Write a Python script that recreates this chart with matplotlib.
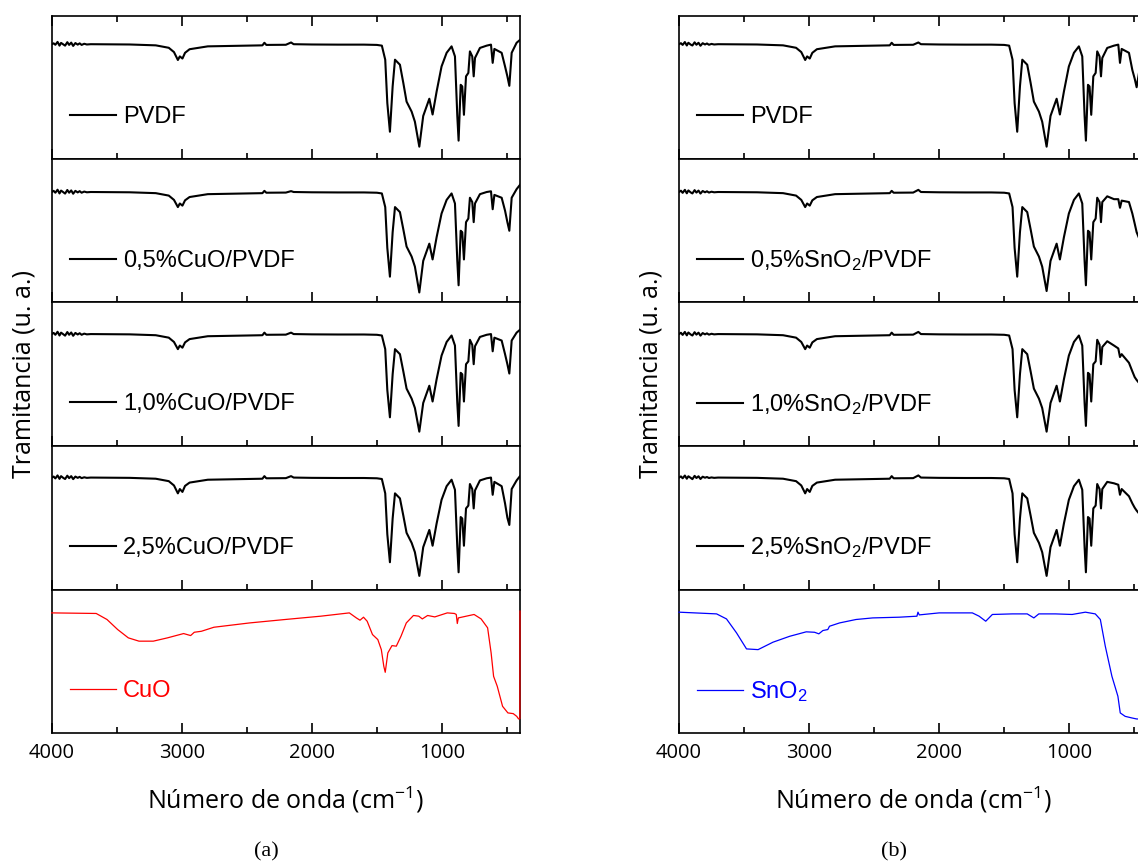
import matplotlib
matplotlib.use('Agg')
import matplotlib.pyplot as plt
from matplotlib.ticker import MultipleLocator

plt.rcParams.update({'font.family': 'Open Sans'})

# wavenumber grid shared by the PVDF based films (cm-1)
wn_film = [4000, 3985, 3972, 3955, 3940, 3928, 3910, 3897, 3880, 3866, 3850, 3835, 3818, 3800, 3785, 3770, 3750, 3730, 3700,
           3400, 3200, 3100, 3060, 3030, 3015, 2995, 2975, 2940, 2800, 2500, 2380, 2365, 2350, 2200, 2160, 2140, 2000, 1800, 1600, 1500,
           1462, 1436, 1420, 1400, 1379, 1361, 1323, 1297, 1272, 1233, 1208, 1174, 1144, 1097, 1072, 1041, 1003, 964, 926, 900,
           882, 872, 856, 844, 831, 815, 797, 785, 767, 756, 746, 708, 656, 623, 610, 597, 541, 515, 497, 482, 464, 426, 400]

# transmittance (normalised to each panel)
tr_pvdf = [.800, .806, .796, .816, .790, .809, .798, .790, .814, .795, .811, .788, .808, .797, .806, .795, .803, .798, .800,
           .798, .792, .775, .745, .690, .715, .700, .740, .765, .785, .790, .792, .810, .795, .796, .812, .800, .798, .797, .797, .795,
           .790, .692, .390, .190, .506, .692, .657, .530, .400, .330, .260, .086, .300, .420, .310, .470, .645, .740, .785, .715,
           .300, .128, .517, .506, .308, .576, .600, .750, .715, .576, .704, .774, .790, .797, .670, .767, .740, .645, .576, .510, .740, .810, .830]
tr_cuo05 = [.770, .778, .765, .786, .760, .780, .768, .759, .784, .765, .781, .758, .778, .767, .776, .765, .773, .768, .770,
            .768, .762, .745, .715, .665, .690, .675, .712, .735, .755, .760, .762, .778, .765, .766, .776, .770, .768, .767, .767, .765,
            .760, .665, .380, .180, .490, .665, .630, .510, .390, .320, .250, .070, .290, .410, .300, .455, .620, .715, .760, .690,
            .290, .120, .500, .490, .300, .560, .585, .730, .700, .560, .690, .755, .770, .775, .650, .750, .730, .640, .560, .500, .730, .790, .820]
tr_cuo10 = [.780, .788, .775, .796, .770, .790, .778, .769, .794, .775, .791, .768, .788, .777, .786, .775, .783, .778, .780,
            .778, .772, .755, .725, .675, .700, .685, .722, .745, .765, .770, .772, .790, .775, .776, .790, .780, .778, .777, .777, .775,
            .770, .675, .390, .200, .500, .675, .640, .520, .400, .330, .265, .100, .300, .420, .310, .465, .630, .725, .770, .700,
            .300, .140, .510, .500, .310, .570, .590, .740, .705, .570, .695, .760, .775, .780, .660, .755, .735, .640, .570, .505, .735, .790, .810]
tr_cuo25 = [.780, .787, .774, .795, .771, .790, .777, .770, .793, .776, .790, .769, .787, .778, .785, .776, .782, .778, .780,
            .778, .772, .755, .725, .670, .700, .680, .722, .745, .765, .770, .772, .790, .775, .776, .790, .780, .778, .777, .777, .775,
            .770, .670, .385, .190, .495, .670, .635, .515, .395, .325, .260, .095, .295, .415, .305, .460, .625, .720, .765, .695,
            .295, .120, .505, .495, .305, .565, .585, .735, .700, .565, .690, .760, .775, .780, .660, .750, .720, .600, .500, .450, .700, .760, .790]
tr_pvdf_b = [.800, .807, .795, .815, .791, .810, .797, .791, .813, .796, .810, .789, .807, .798, .805, .796, .802, .798, .800,
             .798, .792, .775, .745, .690, .715, .700, .740, .765, .785, .790, .792, .810, .795, .796, .812, .800, .798, .797, .797, .795,
             .790, .692, .390, .190, .506, .692, .657, .530, .400, .330, .260, .086, .300, .420, .310, .470, .645, .740, .785, .715,
             .300, .128, .517, .506, .308, .576, .600, .750, .715, .576, .704, .774, .790, .797, .670, .767, .740, .620, .560, .500, .600, .700, .750]
tr_sno05 = [.770, .779, .764, .785, .761, .781, .767, .760, .783, .766, .780, .759, .777, .768, .775, .766, .772, .768, .770,
            .768, .762, .745, .715, .665, .690, .675, .712, .735, .755, .760, .762, .778, .765, .766, .785, .770, .768, .767, .767, .765,
            .760, .665, .380, .180, .490, .665, .630, .510, .390, .320, .250, .080, .290, .410, .300, .455, .620, .715, .760, .690,
            .290, .120, .500, .490, .300, .560, .585, .730, .700, .560, .700, .740, .720, .720, .660, .710, .700, .620, .550, .490, .450, .450, .450]
tr_sno10 = [.780, .789, .774, .795, .771, .791, .777, .770, .793, .776, .790, .769, .787, .778, .785, .776, .782, .778, .780,
            .778, .772, .755, .725, .675, .700, .685, .722, .745, .765, .770, .772, .790, .775, .776, .795, .780, .778, .777, .777, .775,
            .770, .675, .390, .200, .500, .675, .640, .520, .400, .330, .265, .100, .300, .420, .310, .465, .630, .725, .770, .700,
            .300, .140, .510, .500, .310, .570, .590, .740, .705, .570, .690, .730, .700, .680, .620, .640, .580, .520, .480, .460, .440, .440, .440]
tr_sno25 = [.780, .788, .775, .794, .772, .789, .778, .769, .792, .777, .789, .770, .786, .779, .784, .777, .781, .778, .780,
            .778, .772, .755, .725, .670, .700, .680, .722, .745, .765, .770, .772, .790, .775, .776, .795, .780, .778, .777, .777, .775,
            .770, .670, .385, .190, .495, .670, .635, .515, .395, .325, .260, .095, .295, .415, .305, .460, .625, .720, .765, .695,
            .295, .120, .505, .495, .305, .565, .585, .735, .700, .565, .700, .750, .740, .730, .660, .700, .650, .600, .570, .550, .530, .530, .530]

# oxide powders
wn_cuo = [4000, 3658, 3575, 3493, 3411, 3329, 3219, 3110, 2986, 2932, 2904, 2849, 2753, 2479, 2205, 1932, 1712, 1658, 1630, 1603,
          1575, 1534, 1493, 1466, 1447, 1436, 1416, 1384, 1351, 1315, 1274, 1219, 1178, 1151, 1110, 1055, 959, 904, 890, 882,
          874, 753, 699, 649, 622, 603, 575, 534, 493, 452, 425, 411, 401, 400]
tr_cuo = [.837, .833, .791, .721, .663, .640, .640, .663, .693, .679, .702, .709, .737, .767, .791, .814, .837, .802, .786, .807,
          .779, .686, .651, .581, .465, .423, .558, .609, .605, .674, .767, .819, .814, .795, .819, .809, .837, .833, .826, .763,
          .802, .826, .795, .733, .558, .395, .326, .186, .140, .135, .116, .098, .100, .850]
wn_sno = [4000, 3711, 3635, 3558, 3481, 3392, 3277, 3149, 3022, 2958, 2925, 2894, 2856, 2843, 2766, 2639, 2511, 2307, 2171, 2163,
          2153, 2000, 1745, 1693, 1642, 1591, 1438, 1323, 1272, 1234, 1106, 978, 876, 800, 761, 723, 672, 626, 608, 570,
          519, 483, 400]
tr_sno = [.842, .830, .795, .698, .586, .581, .633, .674, .705, .702, .691, .714, .721, .744, .767, .791, .802, .807, .814, .842,
          .823, .837, .837, .814, .779, .826, .830, .830, .802, .830, .830, .826, .842, .830, .791, .605, .395, .256, .140, .116,
          .105, .098, .095]

labels_cuo = ['PVDF', '0,5%CuO/PVDF', '1,0%CuO/PVDF', '2,5%CuO/PVDF', 'CuO']
labels_sno = ['PVDF', r'0,5%SnO$\mathregular{_2}$/PVDF', r'1,0%SnO$\mathregular{_2}$/PVDF',
              r'2,5%SnO$\mathregular{_2}$/PVDF', r'SnO$\mathregular{_2}$']

cols = [
    ([(wn_film, tr_pvdf), (wn_film, tr_cuo05), (wn_film, tr_cuo10), (wn_film, tr_cuo25), (wn_cuo, tr_cuo)], labels_cuo, 'red', 51.7, '(a)'),
    ([(wn_film, tr_pvdf_b), (wn_film, tr_sno05), (wn_film, tr_sno10), (wn_film, tr_sno25), (wn_sno, tr_sno)], labels_sno, 'blue', 679, '(b)'),
]

W, H = 1138, 863
fig = plt.figure(figsize=(W / 100, H / 100), dpi=100)
tops = [15.5, 159, 302.5, 446, 589.5]
ph = 143.5
pw = 468.3

for spectra, labels, oxclr, x0, tag in cols:
    for i, ((x, y), lab) in enumerate(zip(spectra, labels)):
        ax = fig.add_axes([x0 / W, 1 - (tops[i] + ph) / H, pw / W, ph / H])
        if i < 4:
            ax.plot(x, y, color='k', lw=1.5, label=lab)
            tclr = 'k'
        else:
            ax.plot(x, y, color=oxclr, lw=0.9, label=lab, zorder=3, clip_on=False)
            tclr = oxclr
        ax.set_xlim(4000, 400)
        ax.set_ylim(0, 1)
        ax.set_yticks([])
        ax.xaxis.set_major_locator(MultipleLocator(1000))
        ax.xaxis.set_minor_locator(MultipleLocator(500))
        ax.tick_params(axis='x', which='both', direction='in', top=(i == 0), bottom=True,
                       labelbottom=(i == 4), width=1.2, labelsize=14.5, pad=7)
        ax.tick_params(axis='x', which='major', length=7)
        ax.tick_params(axis='x', which='minor', length=4)
        for s in ax.spines.values():
            s.set_linewidth(1.2)
        leg = ax.legend(loc='center left', bbox_to_anchor=(18 / pw, 0.29), frameon=False,
                        handlelength=1.95, handletextpad=0.3, borderpad=0, borderaxespad=0,
                        prop={'family': 'Liberation Sans', 'size': 17})
        for t in leg.get_texts():
            t.set_color(tclr)
        if i == 4:
            ax.set_xlabel(r'Número de onda (cm$\mathregular{^{-1}}$)', fontsize=18, labelpad=16)
    fig.text((x0 - 28) / W, 1 - 374 / H, 'Tramitancia (u. a.)', rotation=90, fontsize=18,
             ha='center', va='center')
    fig.text((x0 + pw / 2 - 19) / W, 1 - 852 / H, tag, fontsize=16, family='Liberation Serif',
             ha='center', va='center')

fig.savefig('out.png', dpi=100)
